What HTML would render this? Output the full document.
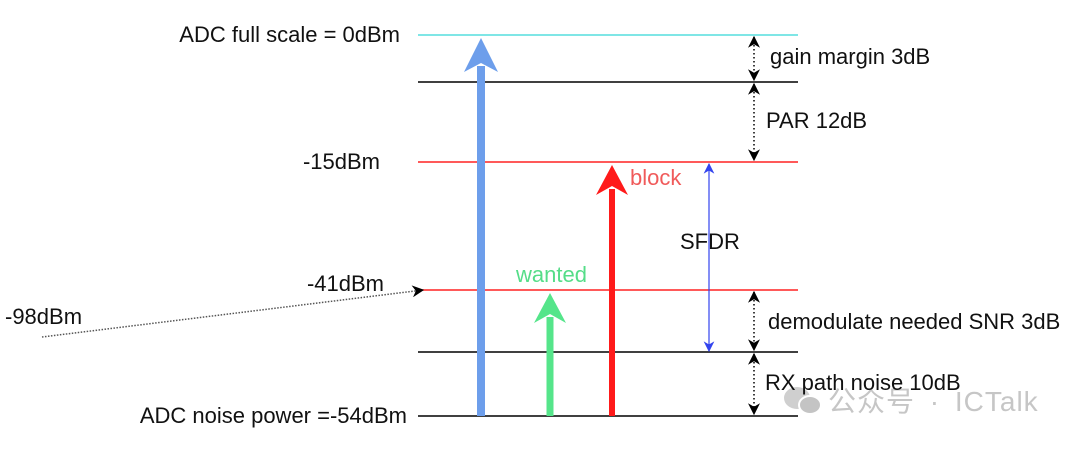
<!DOCTYPE html>
<html><head><meta charset="utf-8"><style>
body{margin:0;background:#fff;}
svg text{font-family:"Liberation Sans","Noto Sans CJK SC",sans-serif;font-size:22px;}
svg text.wm{font-size:28px;word-spacing:6px;letter-spacing:1px;}
</style></head><body>
<svg width="1072" height="454" xmlns="http://www.w3.org/2000/svg">
<defs>
<marker id="ah" viewBox="0 0 10 10" refX="9" refY="5" markerWidth="8" markerHeight="8" orient="auto-start-reverse"><path d="M0,0 L10,5 L0,10 L3,5 z" fill="#000"/></marker>
<marker id="ahb" viewBox="0 0 10 10" refX="9" refY="5" markerWidth="9" markerHeight="9" orient="auto-start-reverse"><path d="M0,0 L10,5 L0,10 L3,5 z" fill="#3344ee"/></marker>
</defs>
<g><ellipse cx="797" cy="398" rx="13" ry="11" fill="#cfcfcf"/><ellipse cx="810" cy="405" rx="11" ry="9" fill="#c4c4c4" stroke="#fff" stroke-width="2"/></g>
<g id="levels"></g>
<g id="arrows"></g>
<g id="labels"></g>
</svg>
<script>
const levelNames=['full-scale','gain-margin','block','wanted','snr','noise'];
const levelDbm=[0,-3,-15,-41,-51,-54];
const levelYpix=[35,82,162,290,352,416];
const levelColors=['#55dddd','#000','#ff2222','#ff2222','#000','#000'];
function yScale(d){for(let i=0;i<levelDbm.length-1;i++){const a=levelDbm[i],b=levelDbm[i+1];if(d<=a&&d>=b){return levelYpix[i]+(a-d)/(a-b)*(levelYpix[i+1]-levelYpix[i]);}}return d>0?levelYpix[0]:levelYpix[levelYpix.length-1];}
const NS='http://www.w3.org/2000/svg';
function mk(p,t,a){const e=document.createElementNS(NS,t);for(const k in a)e.setAttribute(k,a[k]);p.appendChild(e);return e;}
const gL=document.getElementById('levels'),gA=document.getElementById('arrows'),gT=document.getElementById('labels');
levelDbm.forEach((d,i)=>{const l=mk(gL,'line',{x1:418,x2:798,y1:yScale(d),y2:yScale(d),stroke:levelColors[i],'stroke-width':1.5});

});
const sigNames=['adc-range','wanted','block'];
const sigTop=[0,-41,-15];
const sigColor=['#6d9eeb','#55e58a','#ff1a1a'];
const sigX=[481,550,612];
const sigW=[8,7,6];
sigTop.forEach((d,i)=>{const b=yScale(-54),t=yScale(d)+3;const x=sigX[i],w=sigW[i],hw=i==0?17:16,hh=i==0?34:30;
const g=mk(gA,'g',{});


mk(g,'rect',{x:x-w/2,y:t+hh-6,width:w,height:b-t-hh+6,fill:sigColor[i]});
mk(g,'path',{d:`M${x},${t} L${x+hw},${t+hh} L${x},${t+hh-9} L${x-hw},${t+hh} Z`,fill:sigColor[i]});});
const spans=[[0,-3],[-3,-15],[-41,-51],[-51,-54]];
spans.forEach((s,i)=>{const l=mk(gA,'line',{x1:754,x2:754,y1:yScale(s[0])+2,y2:yScale(s[1])-2,stroke:'#000','stroke-width':1.5,'stroke-dasharray':'1.5,2.5','marker-start':'url(#ah)','marker-end':'url(#ah)'});

});
const sf=mk(gA,'line',{x1:709,x2:709,y1:yScale(-15)+2,y2:yScale(-51)-1,stroke:'#3344ee','stroke-width':1.2,'marker-start':'url(#ahb)','marker-end':'url(#ahb)'});


const inA=mk(gA,'line',{x1:42,y1:337,x2:423,y2:290,stroke:'#555','stroke-width':1.5,'stroke-dasharray':'1.5,1.5','marker-end':'url(#ah)'});


const labTexts=['公众号 · ICTalk','ADC full scale = 0dBm','-15dBm','-41dBm','-98dBm','ADC noise power =-54dBm','gain margin 3dB','PAR 12dB','SFDR','demodulate needed SNR 3dB','RX path noise 10dB','block','wanted'];
const labNames=['watermark','full-scale-label','minus15-label','minus41-label','minus98-label','noise-power-label','gain-margin-label','par-label','sfdr-label','snr-label','rx-noise-label','block-label','wanted-label'];
const labPos=[[828,411,'start'],[400,42,'end'],[380,169,'end'],[384,291,'end'],[5,324,'start'],[407,423,'end'],[770,64,'start'],[766,128,'start'],[680,249,'start'],[768,329,'start'],[765,390,'start'],[630,185,'start'],[516,282,'start']];
const labCol=['#c6c6c6','#111','#111','#111','#111','#111','#111','#111','#111','#111','#111','#f05a5a','#55dd88'];
labTexts.forEach((t,i)=>{const e=mk(gT,'text',{x:labPos[i][0],y:labPos[i][1],'text-anchor':labPos[i][2],fill:labCol[i]});
if(i==0)e.setAttribute('class','wm');
e.textContent=t;

});
</script>
</body></html>
